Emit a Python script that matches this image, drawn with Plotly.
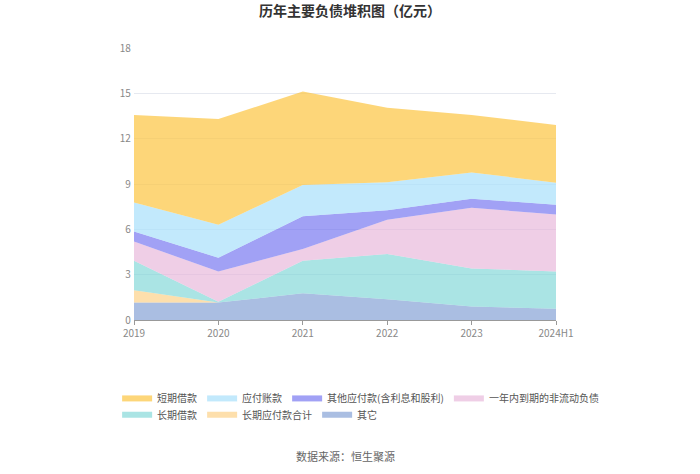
import plotly.graph_objects as go

years = ["2019", "2020", "2021", "2022", "2023", "2024H1"]

# bottom of the stack first
other = [1.15, 1.15, 1.77, 1.37, 0.89, 0.75]
long_payable = [0.82, 0.0, 0.0, 0.0, 0.0, 0.0]
long_loan = [1.95, 0.05, 2.15, 3.0, 2.52, 2.46]
due_within_year = [1.27, 2.01, 0.78, 2.26, 4.02, 3.77]
other_payable = [0.66, 0.91, 2.17, 0.64, 0.60, 0.65]
accounts_payable = [1.93, 2.18, 2.07, 1.84, 1.73, 1.46]
short_loan = [5.79, 7.0, 6.18, 4.93, 3.81, 3.81]

# name, values, fill colour, legend row, order within row
series = [
    ("其它", other, "rgba(142,168,216,0.75)", "legend2", 3),
    ("长期应付款合计", long_payable, "rgba(252,212,144,0.75)", "legend2", 2),
    ("长期借款", long_loan, "rgba(125,214,214,0.65)", "legend2", 1),
    ("一年内到期的非流动负债", due_within_year, "rgba(230,179,217,0.65)", "legend", 4),
    ("其他应付款(含利息和股利)", other_payable, "rgba(110,110,240,0.65)", "legend", 3),
    ("应付账款", accounts_payable, "rgba(168,224,251,0.7)", "legend", 2),
    ("短期借款", short_loan, "rgba(252,196,64,0.7)", "legend", 1),
]

fig = go.Figure()
for name, vals, color, leg, rank in series:
    fig.add_trace(go.Scatter(
        x=years, y=vals, name=name, stackgroup="one",
        mode="none", fillcolor=color, line=dict(width=0),
        legend=leg, legendrank=rank,
    ))

legend_style = dict(orientation="h", xanchor="left", yanchor="top",
                    font=dict(size=10, color="#555"), traceorder="normal",
                    bgcolor="rgba(0,0,0,0)")

fig.update_layout(
    width=700, height=474,
    margin=dict(l=134, r=144, t=48, b=154, autoexpand=False),
    paper_bgcolor="white", plot_bgcolor="white",
    font=dict(family="Noto Sans CJK SC, sans-serif", color="#666"),
    title=dict(text="<b>历年主要负债堆积图（亿元）</b>", x=0.5, y=0.977,
               xanchor="center", yanchor="middle",
               font=dict(size=14, color="#333")),
    showlegend=True,
    legend=dict(x=-0.04, y=-0.235, **legend_style),
    legend2=dict(x=-0.04, y=-0.295, **legend_style),
    annotations=[dict(text="数据来源：恒生聚源", x=0.5, xref="paper", y=-0.5,
                      yref="paper", yanchor="middle", showarrow=False,
                      font=dict(size=11, color="#666"))],
)
fig.update_xaxes(type="category", range=[0, 5], showgrid=False, automargin=False,
                 showline=True, linecolor="#999", ticks="outside",
                 tickcolor="#999", ticklen=4, tickfont=dict(size=10, color="#888"))
fig.update_yaxes(range=[0, 18], dtick=3, showgrid=True, gridcolor="#e6e9f0",
                 zeroline=False, automargin=False,
                 tickfont=dict(size=10, color="#888"), ticksuffix=" ")

fig.write_html("out.html", config={"displayModeBar": False},
               post_script="document.body.style.margin='0';")
